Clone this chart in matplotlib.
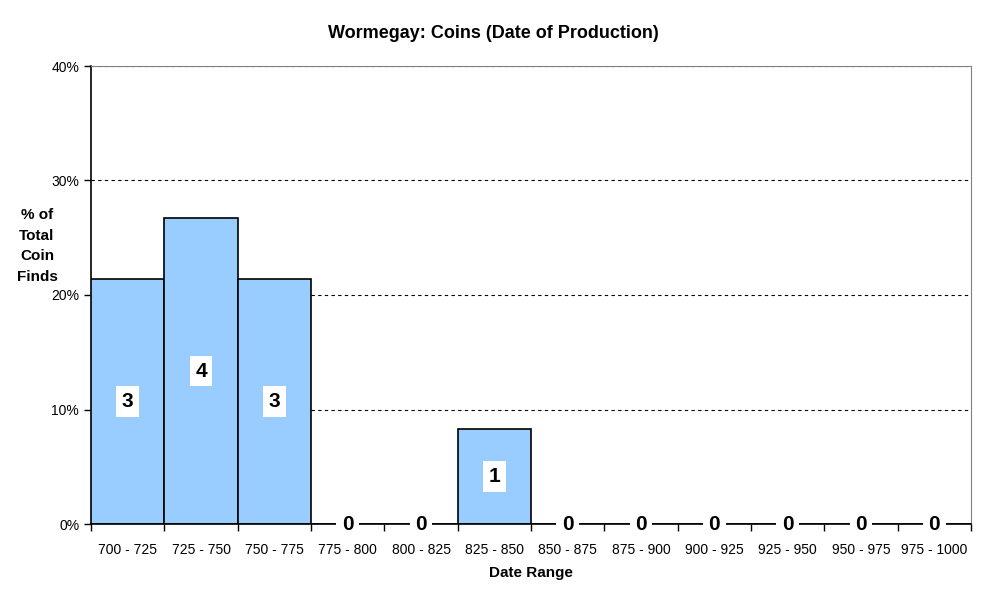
import numpy as np
import matplotlib.pyplot as plt

plt.rcParams['font.family'] = ['Liberation Sans', 'DejaVu Sans']

# data
ranges = ["700 - 725", "725 - 750", "750 - 775", "775 - 800", "800 - 825", "825 - 850",
          "850 - 875", "875 - 900", "900 - 925", "925 - 950", "950 - 975", "975 - 1000"]
counts = [3, 4, 3, 0, 0, 1, 0, 0, 0, 0, 0, 0]
percent = [21.4, 26.7, 21.4, 0, 0, 8.3, 0, 0, 0, 0, 0, 0]

fig = plt.figure(figsize=(9.87, 6.06), dpi=100)
ax = fig.add_axes([91/987, 82/606, 880/987, 458/606])

x = np.arange(len(ranges))
ax.bar(x, percent, width=1.0, color="#99ccff", edgecolor="black", linewidth=1.2, zorder=3)

for xi, c, p in zip(x, counts, percent):
    ax.text(xi, p / 2, str(c), ha="center", va="center", fontsize=15, fontweight="bold",
            zorder=5, bbox=dict(facecolor="white", edgecolor="none", pad=4))

ax.set_xlim(-0.5, len(ranges) - 0.5)
ax.set_ylim(0, 40)
ax.set_yticks([0, 10, 20, 30, 40])
ax.set_yticklabels(["0%", "10%", "20%", "30%", "40%"], fontsize=10)
ax.yaxis.grid(True, linestyle=(0, (3, 3)), color="black", linewidth=0.8, zorder=0)

ax.set_xticks(x)
ax.set_xticklabels(ranges, fontsize=10)
ax.tick_params(axis="x", length=0, pad=14)
ax.set_xticks(np.arange(-0.5, len(ranges)), minor=True)
ax.tick_params(axis="x", which="minor", length=5, width=1, direction="out")
ax.tick_params(axis="y", length=5, width=1, direction="out")

for s in ["top", "right"]:
    ax.spines[s].set_color("#808080")
for s in ["left", "bottom"]:
    ax.spines[s].set_color("black")
    ax.spines[s].set_linewidth(1.2)
ax.spines["bottom"].set_zorder(4)

ax.set_xlabel("Date Range", fontsize=11, fontweight="bold", labelpad=6)
fig.text(37/987, 1 - 246/606, "% of\nTotal\nCoin\nFinds", ha="center", va="center",
         fontsize=11, fontweight="bold", linespacing=1.6)
fig.text(0.5, 1 - 33/606, "Wormegay: Coins (Date of Production)", ha="center", va="center",
         fontsize=13, fontweight="bold")

fig.savefig("out.png", dpi=100)
